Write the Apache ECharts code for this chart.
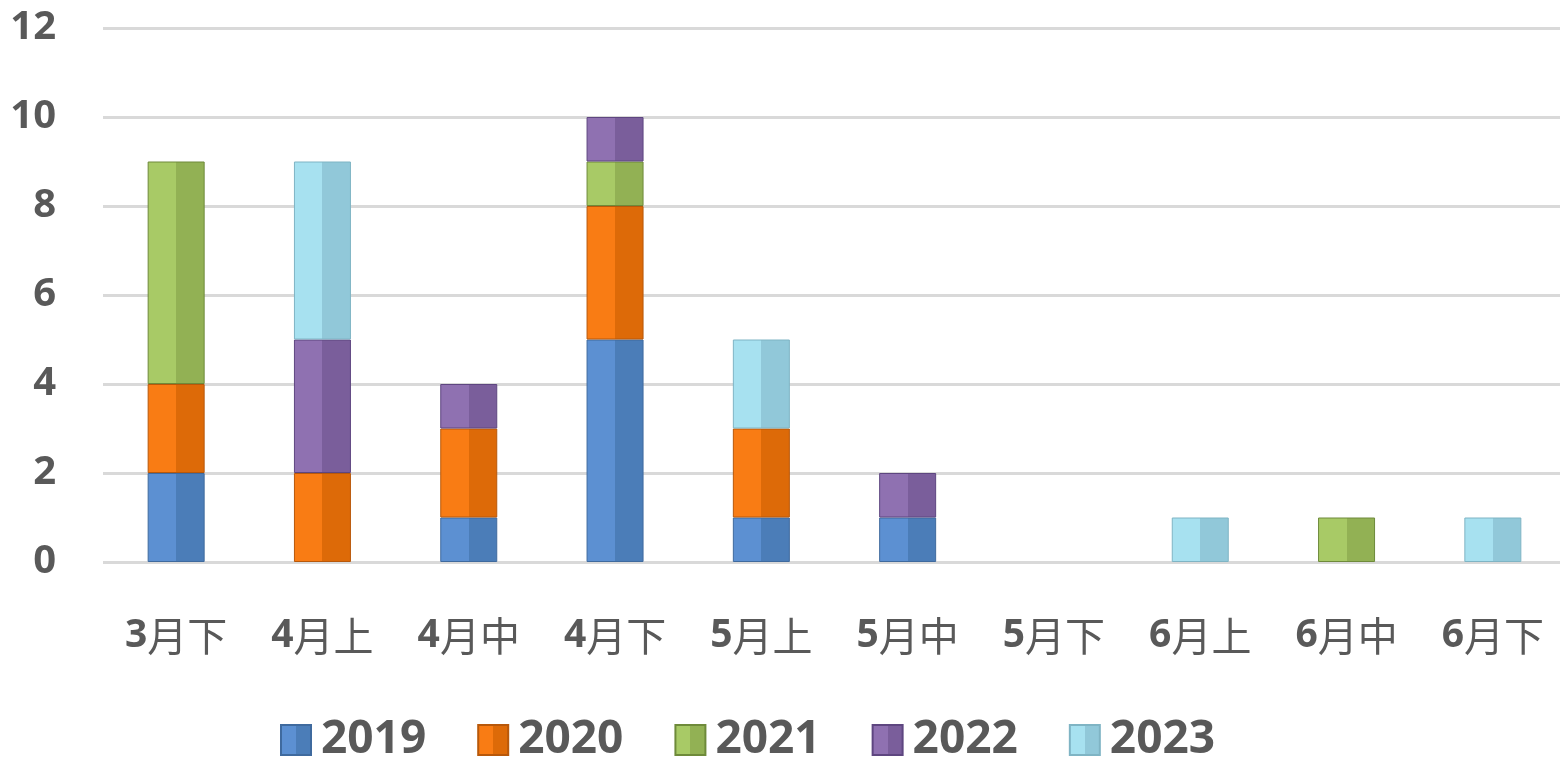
<!DOCTYPE html>
<html>
<head>
<meta charset="utf-8">
<script src="https://cdn.jsdelivr.net/npm/echarts@6/dist/echarts.min.js"></script>
<style>
html,body{margin:0;padding:0;background:#fff;overflow:hidden;width:1560px;height:762px;}
#c{width:1566px;height:762px;}
</style>
</head>
<body>
<div id="c"></div>
<script>
const categories = ['3月下','4月上','4月中','4月下','5月上','5月中','5月下','6月上','6月中','6月下'];
const seriesNames = ['2019','2020','2021','2022','2023'];
const v2019 = [2,0,1,5,1,1,0,0,0,0];
const v2020 = [2,2,2,3,2,0,0,0,0,0];
const v2021 = [5,0,0,1,0,0,0,0,1,0];
const v2022 = [0,3,1,1,0,1,0,0,0,0];
const v2023 = [0,4,0,0,2,0,0,1,0,1];
const yTicks = [0,2,4,6,8,10,12];

const seriesValues = [v2019, v2020, v2021, v2022, v2023];
const palette = [
  {l:'#5C90D2', r:'#4B7DB8', b:'#3F6A9E'},
  {l:'#F97C14', r:'#DD6A08', b:'#B8580A'},
  {l:'#A8CA66', r:'#92B154', b:'#6E8A3A'},
  {l:'#8F71B1', r:'#7A5E9B', b:'#5E4680'},
  {l:'#A7E1F0', r:'#91C8D9', b:'#7FB4C4'}
];
function grad(p){
  return {type:'linear',x:0,y:0,x2:1,y2:0,colorStops:[
    {offset:0,color:p.l},{offset:0.5,color:p.l},{offset:0.5,color:p.r},{offset:1,color:p.r}]};
}
const font = '"Open Sans","Noto Sans CJK SC",sans-serif';
const txt = '#595959';

const chart = echarts.init(document.getElementById('c'));
chart.setOption({
  animation:false,
  backgroundColor:'#fff',
  grid:{left:103,right:0,top:28,bottom:200,containLabel:false},
  legend:{
    data:seriesNames,
    icon:'rect',
    left:280, top:717, padding:0,
    itemWidth:30, itemHeight:30, itemGap:51,
    textStyle:{fontFamily:font,fontSize:46,fontWeight:'bold',color:txt,padding:[0,0,0,5]}
  },
  xAxis:{
    type:'category',
    data:categories,
    axisLine:{show:false},
    axisTick:{show:false},
    axisLabel:{
      margin:54,
      formatter:function(v){return '{d|'+v.slice(0,1)+'}{c|'+v.slice(1)+'}';},
      rich:{
        d:{fontFamily:font,fontSize:39,fontWeight:'bold',color:txt},
        c:{fontFamily:'"Noto Sans CJK SC",sans-serif',fontSize:40,fontWeight:'normal',color:txt}
      }
    }
  },
  yAxis:{
    type:'value',
    min:yTicks[0], max:yTicks[yTicks.length-1], interval:2,
    axisLine:{show:false},
    axisTick:{show:false},
    splitLine:{lineStyle:{color:'#D9D9D9',width:3}},
    axisLabel:{margin:47,fontFamily:font,fontSize:40,fontWeight:'bold',color:txt}
  },
  series:seriesNames.map(function(name,i){
    return {
      name:name,
      type:'bar',
      stack:'all',
      barWidth:57,
      data:seriesValues[i].map(function(v){return v===0?null:v;}),
      itemStyle:{color:grad(palette[i]),borderColor:palette[i].b,borderWidth:1}
    };
  })
});
</script>
</body>
</html>
